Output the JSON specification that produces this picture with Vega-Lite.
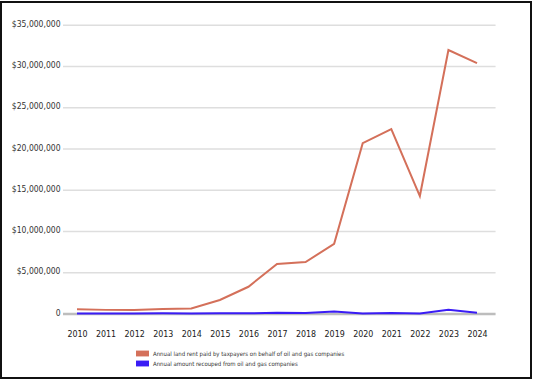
{
  "$schema": "https://vega.github.io/schema/vega-lite/v6.json",
  "width": 530,
  "height": 376,
  "autosize": {"type": "none"},
  "padding": {"left": 1, "top": 2, "right": 3, "bottom": 7},
  "background": "white",
  "config": {
    "view": {"stroke": "#111111", "strokeWidth": 2},
    "font": "DejaVu Sans Condensed, Liberation Sans, sans-serif"
  },
  "resolve": {"axis": {"x": "independent", "y": "independent"}},
  "datasets": {
    "series": [
      {"year": 2010, "series": "Annual land rent paid by taxpayers on behalf of oil and gas companies", "value": 570000},
      {"year": 2011, "series": "Annual land rent paid by taxpayers on behalf of oil and gas companies", "value": 500000},
      {"year": 2012, "series": "Annual land rent paid by taxpayers on behalf of oil and gas companies", "value": 480000},
      {"year": 2013, "series": "Annual land rent paid by taxpayers on behalf of oil and gas companies", "value": 600000},
      {"year": 2014, "series": "Annual land rent paid by taxpayers on behalf of oil and gas companies", "value": 670000},
      {"year": 2015, "series": "Annual land rent paid by taxpayers on behalf of oil and gas companies", "value": 1700000},
      {"year": 2016, "series": "Annual land rent paid by taxpayers on behalf of oil and gas companies", "value": 3300000},
      {"year": 2017, "series": "Annual land rent paid by taxpayers on behalf of oil and gas companies", "value": 6060000},
      {"year": 2018, "series": "Annual land rent paid by taxpayers on behalf of oil and gas companies", "value": 6300000},
      {"year": 2019, "series": "Annual land rent paid by taxpayers on behalf of oil and gas companies", "value": 8500000},
      {"year": 2020, "series": "Annual land rent paid by taxpayers on behalf of oil and gas companies", "value": 20700000},
      {"year": 2021, "series": "Annual land rent paid by taxpayers on behalf of oil and gas companies", "value": 22400000},
      {"year": 2022, "series": "Annual land rent paid by taxpayers on behalf of oil and gas companies", "value": 14300000},
      {"year": 2023, "series": "Annual land rent paid by taxpayers on behalf of oil and gas companies", "value": 32000000},
      {"year": 2024, "series": "Annual land rent paid by taxpayers on behalf of oil and gas companies", "value": 30400000},
      {"year": 2010, "series": "Annual amount recouped from oil and gas companies", "value": 50000},
      {"year": 2011, "series": "Annual amount recouped from oil and gas companies", "value": 50000},
      {"year": 2012, "series": "Annual amount recouped from oil and gas companies", "value": 50000},
      {"year": 2013, "series": "Annual amount recouped from oil and gas companies", "value": 80000},
      {"year": 2014, "series": "Annual amount recouped from oil and gas companies", "value": 60000},
      {"year": 2015, "series": "Annual amount recouped from oil and gas companies", "value": 100000},
      {"year": 2016, "series": "Annual amount recouped from oil and gas companies", "value": 80000},
      {"year": 2017, "series": "Annual amount recouped from oil and gas companies", "value": 150000},
      {"year": 2018, "series": "Annual amount recouped from oil and gas companies", "value": 120000},
      {"year": 2019, "series": "Annual amount recouped from oil and gas companies", "value": 300000},
      {"year": 2020, "series": "Annual amount recouped from oil and gas companies", "value": 50000},
      {"year": 2021, "series": "Annual amount recouped from oil and gas companies", "value": 120000},
      {"year": 2022, "series": "Annual amount recouped from oil and gas companies", "value": 50000},
      {"year": 2023, "series": "Annual amount recouped from oil and gas companies", "value": 500000},
      {"year": 2024, "series": "Annual amount recouped from oil and gas companies", "value": 150000}
    ],
    "grid": [
      {"v": 5000000}, {"v": 10000000}, {"v": 15000000}, {"v": 20000000},
      {"v": 25000000}, {"v": 30000000}, {"v": 35000000}
    ]
  },
  "layer": [
    {
      "data": {"name": "grid"},
      "mark": {"type": "rule", "color": "#dedede", "strokeWidth": 1.3},
      "encoding": {
        "y": {
          "field": "v", "type": "quantitative", "axis": null,
          "scale": {"domain": [-7757576, 37818182], "nice": false, "zero": false}
        },
        "x": {
          "datum": 2009.51, "type": "quantitative", "axis": null,
          "scale": {"domain": [2007.34, 2025.89], "nice": false, "zero": false}
        },
        "x2": {"datum": 2024.65}
      }
    },
    {
      "data": {"values": [{}]},
      "mark": {"type": "rule", "color": "#bdbdbd", "strokeWidth": 2.5},
      "encoding": {
        "y": {"datum": 0, "type": "quantitative", "axis": null},
        "x": {"datum": 2009.51, "type": "quantitative", "axis": null},
        "x2": {"datum": 2024.65}
      }
    },
    {
      "data": {"name": "series"},
      "mark": {"type": "line", "strokeWidth": 2},
      "encoding": {
        "x": {
          "field": "year", "type": "quantitative",
          "axis": {
            "values": [2010, 2011, 2012, 2013, 2014, 2015, 2016, 2017, 2018, 2019, 2020, 2021, 2022, 2023, 2024],
            "format": "d", "title": null, "orient": "bottom", "offset": -45,
            "ticks": false, "tickSize": 0, "domain": false, "grid": false,
            "labelPadding": 0, "labelBaseline": "middle", "labelOverlap": false, "labelFlush": false,
            "labelFontSize": 8.8, "labelColor": "#1a1a1a"
          }
        },
        "y": {
          "field": "value", "type": "quantitative",
          "axis": {
            "values": [0, 5000000, 10000000, 15000000, 20000000, 25000000, 30000000, 35000000],
            "labelExpr": "datum.value == 0 ? '0' : '$' + format(datum.value, ',')",
            "title": null, "offset": -61, "ticks": false, "tickSize": 0, "domain": false, "grid": false,
            "labelPadding": 2, "labelBaseline": "middle", "labelOffset": -2, "labelOverlap": false,
            "labelFontSize": 8.5, "labelColor": "#333333"
          }
        },
        "color": {
          "field": "series", "type": "nominal",
          "scale": {
            "domain": ["Annual land rent paid by taxpayers on behalf of oil and gas companies", "Annual amount recouped from oil and gas companies"],
            "range": ["#d4705a", "#3a1cf5"]
          },
          "legend": {
            "orient": "none", "legendX": 135, "legendY": 345, "title": null,
            "symbolType": "M-1,-0.45H1V0.45H-1Z", "symbolSize": 169, "symbolStrokeWidth": 0,
            "labelFontSize": 6, "labelColor": "#333333", "labelOffset": 4, "labelLimit": 400,
            "rowPadding": 0, "padding": 0,
            "encode": {"symbols": {"update": {"fill": {"scale": "color", "field": "value"}, "opacity": {"value": 1}}}}
          }
        }
      }
    }
  ]
}
